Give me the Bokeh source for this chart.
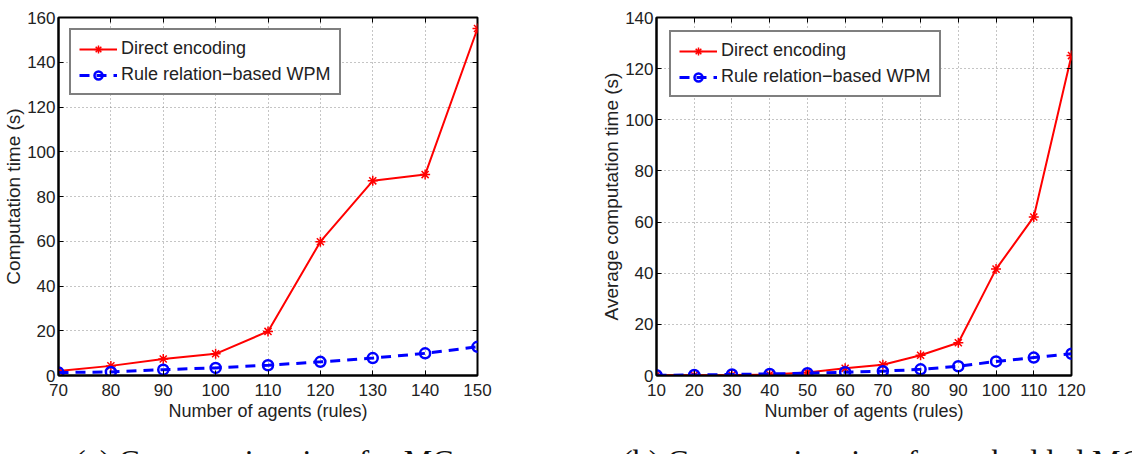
from bokeh.embed import file_html
from bokeh.layouts import column, row
from bokeh.models import Div, FixedTicker, LinearAxis, Range1d
from bokeh.plotting import figure
from bokeh.resources import INLINE

# (a) MC-nets
agents_a = [70, 80, 90, 100, 110, 120, 130, 140, 150]
direct_a = [2.0, 4.3, 7.4, 9.7, 19.7, 59.8, 87.0, 89.8, 155.1]
wpm_a = [1.3, 1.6, 2.6, 3.4, 4.6, 6.1, 7.8, 9.9, 12.8]
xticks_a = [70, 80, 90, 100, 110, 120, 130, 140, 150]
yticks_a = [0, 20, 40, 60, 80, 100, 120, 140, 160]

# (b) embedded MC-nets
agents_b = [10, 20, 30, 40, 50, 60, 70, 80, 90, 100, 110, 120]
direct_b = [0.05, 0.1, 0.2, 0.35, 1.2, 2.8, 4.2, 7.9, 12.8, 41.6, 62.0, 125.1]
wpm_b = [0.1, 0.2, 0.4, 0.6, 0.9, 1.3, 1.7, 2.4, 3.6, 5.5, 7.0, 8.5]
xticks_b = [10, 20, 30, 40, 50, 60, 70, 80, 90, 100, 110, 120]
yticks_b = [0, 20, 40, 60, 80, 100, 120, 140]

captions = ["(a) Computation time for MC-nets",
            "(b) Computation time for embedded MC-nets"]

SANS = "Liberation Sans"
SERIF = "Liberation Serif"
TEXT = "#222222"
PLOT_H = 430


def panel(xs, direct, wpm, xticks, yticks, ylabel,
          frame_w, left, legend_margin):
    width = 566
    top = 17
    frame_h = 358
    p = figure(
        width=width, height=PLOT_H,
        x_range=Range1d(xticks[0], xticks[-1]),
        y_range=Range1d(yticks[0], yticks[-1]),
        output_backend="svg", toolbar_location=None,
        min_border_left=left, min_border_right=width - left - frame_w,
        min_border_top=top, min_border_bottom=PLOT_H - top - frame_h,
        background_fill_color="white", border_fill_color="white",
    )
    p.outline_line_color = "black"
    p.outline_line_width = 2
    p.outline_line_alpha = 1

    for ax, tk in ((p.xaxis[0], xticks), (p.yaxis[0], yticks)):
        ax.ticker = FixedTicker(ticks=tk)
        ax.major_tick_in = 5
        ax.major_tick_out = 0
        ax.minor_tick_line_color = None
        ax.axis_line_color = "black"
        ax.axis_line_width = 2
        ax.major_tick_line_color = "black"
        ax.major_label_text_font = SANS
        ax.major_label_text_font_size = "17px"
        ax.major_label_text_color = TEXT
        ax.axis_label_text_font = SANS
        ax.axis_label_text_font_style = "normal"
        ax.axis_label_text_color = TEXT
    p.xaxis[0].major_label_standoff = 8
    p.xaxis[0].axis_label = "Number of agents (rules)"
    p.xaxis[0].axis_label_text_font_size = "18px"
    p.xaxis[0].axis_label_standoff = 2
    p.yaxis[0].major_label_standoff = 3
    p.yaxis[0].axis_label = ylabel
    p.yaxis[0].axis_label_text_font_size = "19px"
    p.yaxis[0].axis_label_standoff = 0

    # mirrored tick marks on the top and right edges
    for loc, tk in (("above", xticks), ("right", yticks)):
        ax = LinearAxis(ticker=FixedTicker(ticks=tk))
        ax.major_tick_in = 5
        ax.major_tick_out = 0
        ax.minor_tick_line_color = None
        ax.axis_line_color = None
        ax.major_label_text_font_size = "0px"
        ax.major_label_standoff = 0
        p.add_layout(ax, loc)

    for g in (p.xgrid[0], p.ygrid[0]):
        g.grid_line_color = "#808080"
        g.grid_line_dash = "1 3"
        g.grid_line_width = 1
        g.grid_line_alpha = 0.9
    p.xgrid[0].ticker = FixedTicker(ticks=xticks)
    p.ygrid[0].ticker = FixedTicker(ticks=yticks)

    lbl_a = "Direct encoding"
    lbl_b = "Rule relation\u2212based WPM"
    p.line(xs, direct, line_color="#ff0000", line_width=2, legend_label=lbl_a)
    p.scatter(xs, direct, marker="asterisk", size=10, line_color="#ff0000",
              line_width=1.5, legend_label=lbl_a)
    p.line(xs, wpm, line_color="#0000ff", line_width=3, line_dash="10 7",
           legend_label=lbl_b)
    p.scatter(xs, wpm, marker="circle", size=10, line_color="#0000ff",
              fill_color=None, line_width=2.5, legend_label=lbl_b)

    lg = p.legend[0]
    lg.location = "top_left"
    lg.margin = legend_margin
    lg.padding = 8
    lg.spacing = 5
    lg.glyph_width = 38
    lg.glyph_height = 20
    lg.label_height = 20
    lg.label_standoff = 4
    lg.label_text_font = SANS
    lg.label_text_font_size = "18px"
    lg.label_text_color = TEXT
    lg.border_line_color = "black"
    lg.border_line_width = 2
    lg.background_fill_color = "white"
    lg.background_fill_alpha = 1
    return p


p1 = panel(agents_a, direct_a, wpm_a, xticks_a, yticks_a,
           "Computation time (s)", frame_w=424, left=53, legend_margin=11)
p2 = panel(agents_b, direct_b, wpm_b, xticks_b, yticks_b,
           "Average computation time (s)", frame_w=415, left=90,
           legend_margin=13)

# sub-figure captions in a strip under the plots
span_style = ("position:absolute;top:13px;white-space:nowrap;"
              f"font-family:'{SERIF}';font-size:32px;line-height:normal;"
              "color:#111111;")
caption_html = (
    '<div style="position:relative;width:1132px;height:24px;overflow:hidden;">'
    f'<span style="{span_style}left:75px;">{captions[0]}</span>'
    f'<span style="{span_style}left:622px;">{captions[1]}</span>'
    "</div>"
)
cap_div = Div(text=caption_html, width=1132, height=24,
              styles={"overflow": "hidden", "margin": "0", "padding": "0"})

layout = column(row(p1, p2, spacing=0), cap_div, spacing=0)
with open("out.html", "w") as f:
    f.write(file_html(layout, INLINE))
